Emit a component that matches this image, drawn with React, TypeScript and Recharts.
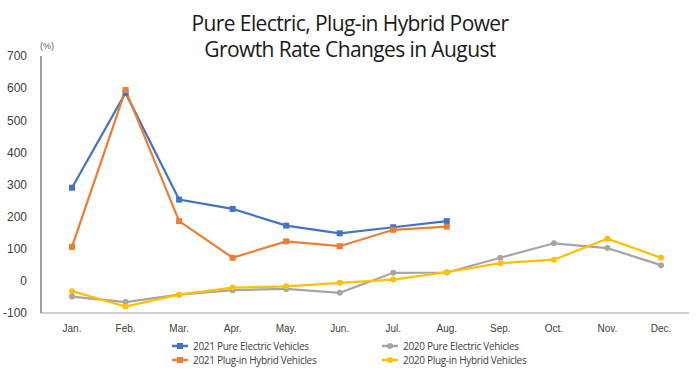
import React from 'react';
import { LineChart, Line, XAxis, YAxis } from 'recharts';

const months = ['Jan.', 'Feb.', 'Mar.', 'Apr.', 'May.', 'Jun.', 'Jul.', 'Aug.', 'Sep.', 'Oct.', 'Nov.', 'Dec.'];
const bev2021 = [290, 585, 253, 224, 172, 148, 167, 186, null, null, null, null];
const phev2021 = [106, 594, 186, 72, 123, 108, 159, 169, null, null, null, null];
const bev2020 = [-49, -66, -43, -29, -25, -37, 25, 26, 72, 117, 102, 49];
const phev2020 = [-32, -80, -43, -21, -17, -6, 4, 27, 55, 66, 131, 72];
const yTicks = [-100, 0, 100, 200, 300, 400, 500, 600, 700];

const data = months.map((m, i) => ({
  month: m,
  bev2021: bev2021[i],
  phev2021: phev2021[i],
  bev2020: bev2020[i],
  phev2020: phev2020[i],
}));

const series = [
  { key: 'bev2021', name: '2021 Pure Electric Vehicles', color: '#4472C4', square: true },
  { key: 'phev2021', name: '2021 Plug-in Hybrid Vehicles', color: '#ED7D31', square: true },
  { key: 'bev2020', name: '2020 Pure Electric Vehicles', color: '#A5A5A5', square: false },
  { key: 'phev2020', name: '2020 Plug-in Hybrid Vehicles', color: '#FFC000', square: false },
];

const SquareDot = (color: string) => (props: any) => {
  const { cx, cy, index } = props;
  if (cx == null || cy == null || props.value == null) return <g key={index} />;
  return <rect key={index} x={cx - 3} y={cy - 3} width={6} height={6} fill={color} />;
};

const RoundDot = (color: string) => (props: any) => {
  const { cx, cy, index } = props;
  if (cx == null || cy == null || props.value == null) return <g key={index} />;
  return <circle key={index} cx={cx} cy={cy} r={3} fill={color} />;
};

const legendPos = [
  { left: 172, top: 339 },
  { left: 172, top: 353 },
  { left: 382, top: 339 },
  { left: 382, top: 353 },
];

export default function App() {
  return (
    <div style={{ position: 'absolute', left: 0, top: 0, width: 700, height: 380, background: '#fff', fontFamily: 'Liberation Sans, Arial, sans-serif' }}>
      <div style={{ position: 'absolute', left: 0, top: 10, width: 700, textAlign: 'center', fontFamily: '"Open Sans", sans-serif', fontSize: 21, lineHeight: '26px', letterSpacing: -0.6, color: '#1a1a1a' }}>
        <div>Pure Electric, Plug-in Hybrid Power</div>
        <div>Growth Rate Changes in August</div>
      </div>
      <div style={{ position: 'absolute', left: 40, top: 41, fontSize: 9, color: '#595959' }}>(%)</div>
      <LineChart width={700} height={380} data={data} margin={{ top: 56, right: 11, bottom: 47, left: 6 }}>
        <XAxis
          dataKey="month"
          axisLine={{ stroke: '#bfbfbf', strokeWidth: 1.5 }}
          tickLine={false}
          tick={{ fontSize: 10, fill: '#404040' }}
          tickMargin={6}
          height={20}
          padding={{ left: 31, right: 28 }}
        />
        <YAxis
          domain={[-100, 700]}
          ticks={yTicks}
          interval={0}
          width={35}
          axisLine={{ stroke: '#7f7f7f', strokeWidth: 1.5 }}
          tickLine={false}
          tickMargin={8}
          tick={{ fontSize: 12, fill: '#404040' }}
        />
        {series.map(s => (
          <Line
            key={s.key}
            type="linear"
            dataKey={s.key}
            name={s.name}
            stroke={s.color}
            strokeWidth={2.2}
            dot={s.square ? SquareDot(s.color) : RoundDot(s.color)}
            activeDot={false}
            isAnimationActive={false}
            connectNulls={false}
          />
        ))}
      </LineChart>
      {series.map((s, i) => (
        <div key={s.key} style={{ position: 'absolute', left: legendPos[i].left, top: legendPos[i].top, display: 'flex', alignItems: 'center', fontSize: 10, letterSpacing: -0.3, color: '#404040', fontFamily: '"Open Sans", sans-serif' }}>
          <svg width={18} height={10} style={{ marginRight: 3 }}>
            <line x1={0} y1={5} x2={16} y2={5} stroke={s.color} strokeWidth={2.5} />
            {s.square ? <rect x={5} y={2} width={6} height={6} fill={s.color} /> : <circle cx={8} cy={5} r={3} fill={s.color} />}
          </svg>
          {s.name}
        </div>
      ))}
    </div>
  );
}
